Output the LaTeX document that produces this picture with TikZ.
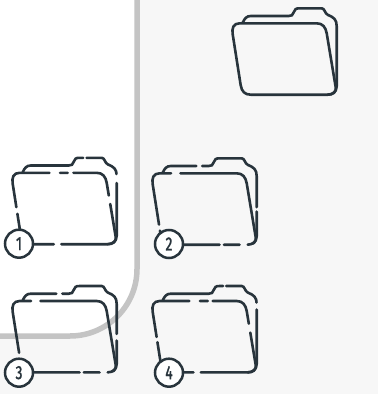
\documentclass[tikz,border=0pt]{standalone}
\usepackage{fontspec}
\setmainfont{Fira Sans}
\newfontfamily\numfont[FakeStretch=0.72,FakeBold=1.6]{Fira Sans}
\definecolor{ink}{RGB}{40,52,60}
\definecolor{paper}{RGB}{247,247,247}
\definecolor{band}{RGB}{196,196,196}
\tikzset{
    frontline/.style={draw=ink,line width=2.6pt,line cap=round},
    numcirc/.style={circle,draw=ink,fill=white,line width=2.5pt,minimum size=28pt,inner sep=0pt,font=\fontsize{19}{19}\numfont,text=ink},
}
\newcommand{\folder}[3]{%
    \draw[frontline,shift={#1},dash pattern=#2] (1,26) .. controls (0,20) and (1.5,15) .. (8,15) -- (85,15) .. controls (91,15) and (94,19) .. (95,25) -- (104,79) .. controls (105,84) and (101,86.4) .. (96,86.4) -- (19,86.4) .. controls (13,86.4) and (10,83) .. (9,77) -- cycle;
    \draw[frontline,shift={#1},dash pattern=#3] (11,14.4) .. controls (13,10) and (15,7.7) .. (19,7.7) -- (57,7.7) .. controls (60,7.7) and (61,7) .. (62,4) .. controls (63,1) and (64,0) .. (68,0) -- (90,0) .. controls (93,0) and (93,5) .. (96,6.5) .. controls (102,9) and (105,11) .. (105,18) -- (105,78) .. controls (105,83) and (101,86.4) .. (96,86.4);
}
\begin{document}
\begin{tikzpicture}[x=1pt,y=-1pt]
\useasboundingbox (0,0) rectangle (378,394);
\fill[paper] (0,0) rectangle (378,394);
\fill[white] (0,0) -- (137,0) -- (137,269) arc[start angle=0,end angle=90,radius=67] -- (0,336) -- cycle;
\draw[band,line width=5.5pt] (137,0) -- (137,269) arc[start angle=0,end angle=90,radius=67] -- (0,336);

\folder{(231.7,8.3)}{on 1000pt off 0pt}{on 1000pt off 0pt}
\folder{(11.7,157.8)}{on 45pt off 10.6pt on 7.7pt off 5.7pt on 51.7pt off 8.6pt on 92.4pt off 7.4pt on 59.6pt off 6.7pt on 30pt off 0pt}{on 67.3pt off 3.4pt on 38.3pt off 9pt on 100pt off 0pt}
\folder{(151.7,158.3)}{on 26.6pt off 9.4pt on 134.7pt off 12.7pt on 15.7pt off 4.3pt on 68.8pt off 6.1pt on 40pt off 0pt}{on 36.7pt off 6pt on 99pt off 4.3pt on 60pt off 0pt}
\folder{(11.7,286)}{on 26.6pt off 9.4pt on 134.7pt off 12.7pt on 15.7pt off 4.3pt on 66.8pt off 7.6pt on 40pt off 0pt}{on 36.7pt off 6pt on 98pt off 6.6pt on 60pt off 0pt}
\folder{(151.7,286)}{on 45pt off 10.6pt on 7.7pt off 5pt on 52.4pt off 9pt on 92.4pt off 7.4pt on 59pt off 5.3pt on 30pt off 0pt}{on 67.3pt off 3pt on 39pt off 7pt on 100pt off 0pt}

\node[numcirc] (one) at (19,243.7) {1};
\node[numcirc] (two) at (169,244) {2};
\node[numcirc] (three) at (19,372.7) {3};
\node[numcirc] (four) at (169,372.7) {4};
\end{tikzpicture}
\end{document}
